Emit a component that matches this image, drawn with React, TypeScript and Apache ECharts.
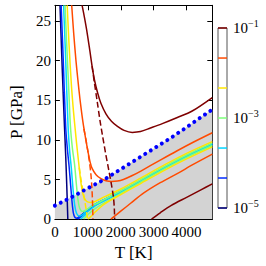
import React, { useEffect, useRef } from "react";
import * as echarts from "echarts";

// ---------- axis ranges ----------
const T_MAX = 4780;
const P_MAX = 27;

// ---------- colour-bar levels (log-spaced) ----------
const levelValues = [0.00001, 0.0000464, 0.000215, 0.001, 0.00464, 0.0215, 0.1];

// ---------- boundary (blue dotted line, grey below) ----------
const boundary = [
  [0, 1.7], [500, 2.75], [1000, 3.9], [1500, 5.0], [2000, 6.3], [2500, 7.6],
  [3000, 8.9], [3500, 10.2], [4000, 11.6], [4780, 13.85],
];

// ---------- contour lines, level 1e-5 (navy) ----------
const navyLeft = [
  [155, 27], [205, 21], [250, 16], [291, 11.7], [325, 8.3], [350, 5.5], [370, 3], [385, 1], [392, 0],
];
const navyRidge = [
  [660, 0], [800, 0.48], [1000, 1.18], [1200, 1.76], [1500, 2.41], [2000, 3.46], [2616, 4.86],
  [3352, 6.56], [4000, 7.96], [4780, 9.46],
];
// ---------- level 10^-4.33 (blue) ----------
const blueUpper = [
  [190, 27], [250, 20.5], [327, 11.7], [380, 8.8], [430, 6.7], [480, 4.2], [520, 2.2], [560, 0.8],
  [610, 0.2], [680, 0.1], [760, 0.35], [900, 0.78], [1000, 1.2], [1200, 1.79], [1500, 2.44],
  [2000, 3.49], [2616, 4.88], [3352, 6.58], [4000, 7.98], [4780, 9.48],
];
const blueLower = [
  [700, 0], [800, 0.32], [1000, 1.12], [1200, 1.72], [1500, 2.37], [2000, 3.42], [2616, 4.83],
  [3352, 6.53], [4000, 7.93], [4780, 9.43],
];
// ---------- level 10^-3.67 (cyan) ----------
const cyanUpper = [
  [264, 27], [320, 21], [400, 11.7], [450, 8.5], [500, 6.4], [550, 3.8], [600, 1.8], [660, 0.7],
  [744, 0.38], [850, 0.6], [1000, 1.25], [1200, 1.85], [1500, 2.5], [2000, 3.55], [2616, 4.93],
  [3352, 6.62], [4000, 8.02], [4780, 9.52],
];
const cyanLower = [
  [780, 0], [900, 0.45], [1000, 0.95], [1200, 1.62], [1500, 2.3], [2000, 3.36], [2616, 4.78],
  [3352, 6.49], [4000, 7.89], [4780, 9.39],
];
// ---------- level 1e-3 (green) ----------
const greenUpper = [
  [308, 27], [360, 22], [420, 16.5], [472, 11.7], [530, 9.0], [600, 6.8], [650, 4.5], [700, 2.5],
  [750, 1.4], [837, 0.95], [950, 1.15], [1100, 1.6], [1335, 2.1], [1717, 2.95], [2200, 4.0],
  [2616, 5.0], [3352, 6.7], [4000, 8.1], [4780, 9.6],
];
const greenLower = [
  [870, 0], [1000, 0.55], [1200, 1.25], [1500, 2.05], [2000, 3.25], [2616, 4.7], [3352, 6.4],
  [4000, 7.8], [4780, 9.3],
];
// ---------- level 10^-2.33 (yellow) ----------
const yellowUpper = [
  [373, 27], [430, 22], [500, 17], [560, 13.8], [608, 11.7], [660, 9.5], [720, 7.2], [770, 5.3],
  [820, 3.8], [880, 2.8], [960, 2.25], [1080, 2.1], [1200, 2.2], [1500, 2.8], [2000, 3.8],
  [2616, 5.2], [3352, 6.9], [4000, 8.3], [4780, 9.78],
];
const yellowLower = [
  [1000, 0], [1100, 0.35], [1200, 0.8], [1500, 1.9], [2000, 3.1], [2616, 4.52], [3352, 6.22],
  [4000, 7.6], [4780, 9.12],
];
const yellowDashed = [
  [740, 6.5], [800, 4.8], [860, 3.4], [910, 2.2], [950, 1.2], [975, 0.5], [985, 0],
];
// ---------- level 10^-1.67 (orange) ----------
const orangeUpper = [
  [510, 27], [570, 23.5], [640, 20], [700, 17.5], [760, 15.2], [820, 13.2], [872, 11.7], [940, 10],
  [1010, 8.4], [1070, 7.2], [1130, 6.4], [1250, 5.6], [1400, 5.1], [1550, 4.85], [1717, 4.75],
  [1900, 4.8], [2080, 5.0], [2350, 5.5], [2624, 6.1], [3200, 7.45], [3700, 8.6], [4200, 9.7],
  [4780, 10.9],
];
const orangeLower = [
  [1700, 0], [2000, 1.0], [2300, 2.0], [2700, 3.3], [3200, 4.6], [3714, 5.75], [4200, 6.9],
  [4780, 8.2],
];
const orangeDashed = [
  [880, 11.4], [940, 10.1], [1000, 8.6], [1050, 7.2], [1090, 5.8], [1120, 4.2], [1140, 2.5],
  [1150, 1.0], [1155, 0],
];
// ---------- level 1e-1 (dark red) ----------
const redUpper = [
  [826, 27], [900, 25.4], [980, 23.5], [1060, 21.3], [1130, 19.3], [1200, 17.6], [1300, 15.9],
  [1400, 14.6], [1550, 13.3], [1717, 12.35], [1900, 11.7], [2100, 11.2], [2350, 10.95],
  [2600, 11.05], [2900, 11.5], [3262, 12.06], [3700, 12.8], [4170, 13.65], [4780, 15.35],
];
const redLower = [
  [2935, 0], [3200, 0.8], [3524, 1.7], [4000, 2.75], [4434, 3.7], [4780, 4.45],
];
const redDashed = [
  [1130, 19.3], [1200, 17.2], [1280, 15.0], [1371, 12.4], [1444, 10.6], [1540, 8.3], [1640, 6.1],
  [1720, 4.3], [1780, 2.7], [1805, 1.3], [1815, 0],
];

// ---------- styles ----------
const levelColors = ["#00007f", "#002aff", "#00d4ff", "#7dff7a", "#ffe600", "#ff4a00", "#7f0000"];
const FONT = "Liberation Serif";

const solidCurves: [number, number[][]][] = [
  [0, navyLeft], [0, navyRidge],
  [1, blueUpper], [1, blueLower],
  [2, cyanUpper], [2, cyanLower],
  [3, greenUpper], [3, greenLower],
  [4, yellowUpper], [4, yellowLower],
  [5, orangeUpper], [5, orangeLower],
  [6, redUpper], [6, redLower],
];
const dashedCurves: [number, number[][]][] = [
  [4, yellowDashed], [5, orangeDashed], [6, redDashed],
];

export default function App() {
  const ref = useRef<HTMLDivElement>(null);
  useEffect(() => {
    if (!ref.current) return;
    const chart = echarts.init(ref.current, null, { renderer: "svg" });
    const tickLabel = { color: "#000", fontFamily: FONT, fontSize: 15 };
    const series: any[] = [];
    series.push({
      type: "line", data: boundary, symbol: "none", silent: true, z: 1,
      lineStyle: { opacity: 0, width: 0 },
      areaStyle: { color: "#d3d3d3", opacity: 1 },
    });
    solidCurves.forEach(([lv, d]) => {
      series.push({
        type: "line", data: d, symbol: "none", smooth: 0.3, z: 2, silent: true,
        lineStyle: { color: levelColors[lv], width: 1.5 },
      });
    });
    dashedCurves.forEach(([lv, d]) => {
      series.push({
        type: "line", data: d, symbol: "none", smooth: 0.3, z: 2, silent: true,
        lineStyle: { color: levelColors[lv], width: 1.5, type: [6, 3] },
      });
    });
    series.push({
      type: "line", data: boundary, symbol: "none", z: 3, silent: true,
      lineStyle: { color: "#0000ff", width: 4, type: [0.01, 6.5], cap: "round" },
    });
    levelValues.forEach((v, i) => {
      series.push({
        type: "line", xAxisIndex: 2, yAxisIndex: 2, data: [[0, v], [1, v]], symbol: "none",
        clip: false, silent: true, z: 4,
        lineStyle: { color: levelColors[i], width: 1.5 },
      });
    });

    chart.setOption({
      animation: false,
      backgroundColor: "#fff",
      grid: [
        { left: 37, top: 5.3, width: 175.3, height: 225.4 },
        { left: 218, top: 28, width: 9, height: 180, show: true, borderColor: "#555", borderWidth: 1, backgroundColor: "#fff" },
      ],
      xAxis: [
        {
          type: "value", gridIndex: 0, min: 0, max: T_MAX, interval: 1000, position: "bottom",
          axisLine: { show: true, onZero: false, lineStyle: { color: "#000", width: 1 } },
          axisTick: { inside: true, length: 5, lineStyle: { color: "#000" } },
          axisLabel: { ...tickLabel, margin: 5, showMaxLabel: false, formatter: (v: number) => String(v) },
          splitLine: { show: false },
          name: "T [K]", nameLocation: "middle", nameGap: 19,
          nameTextStyle: { color: "#000", fontFamily: FONT, fontSize: 17 },
        },
        {
          type: "value", gridIndex: 0, min: 0, max: T_MAX, interval: 1000, position: "top",
          axisLine: { show: true, onZero: false, lineStyle: { color: "#000", width: 1 } },
          axisTick: { inside: true, length: 5, lineStyle: { color: "#000" } },
          axisLabel: { show: false }, splitLine: { show: false },
        },
        { type: "value", gridIndex: 1, min: 0, max: 1, show: false },
      ],
      yAxis: [
        {
          type: "value", gridIndex: 0, min: 0, max: P_MAX, interval: 5, position: "left",
          axisLine: { show: true, onZero: false, lineStyle: { color: "#000", width: 1 } },
          axisTick: { inside: true, length: 5, lineStyle: { color: "#000" } },
          axisLabel: { ...tickLabel, margin: 4, showMaxLabel: false },
          splitLine: { show: false },
          name: "P [GPa]", nameLocation: "middle", nameGap: 24, nameRotate: 90,
          nameTextStyle: { color: "#000", fontFamily: FONT, fontSize: 17 },
        },
        {
          type: "value", gridIndex: 0, min: 0, max: P_MAX, interval: 5, position: "right",
          axisLine: { show: true, onZero: false, lineStyle: { color: "#000", width: 1 } },
          axisTick: { inside: true, length: 5, lineStyle: { color: "#000" } },
          axisLabel: { show: false }, splitLine: { show: false },
        },
        {
          type: "log", logBase: 10, gridIndex: 1, min: 0.00001, max: 0.1, position: "right",
          axisLine: { show: false }, axisTick: { show: false }, splitLine: { show: false },
          axisLabel: {
            show: true, margin: 6, showMinLabel: true, showMaxLabel: true,
            formatter: (v: number) => {
              const e = Math.round(Math.log10(v));
              if (e % 2 === 0) return "";
              return `{b|10}{s|\u2212${Math.abs(e)}}`;
            },
            rich: {
              b: { fontFamily: FONT, fontSize: 15, color: "#000", lineHeight: 20 },
              s: { fontFamily: FONT, fontSize: 10, color: "#000", lineHeight: 10, verticalAlign: "top" },
            },
          },
        },
      ],
      series,
    });
    return () => chart.dispose();
  }, []);
  return <div ref={ref} style={{ position: "absolute", left: 0, top: 0, width: 266, height: 266 }} />;
}
